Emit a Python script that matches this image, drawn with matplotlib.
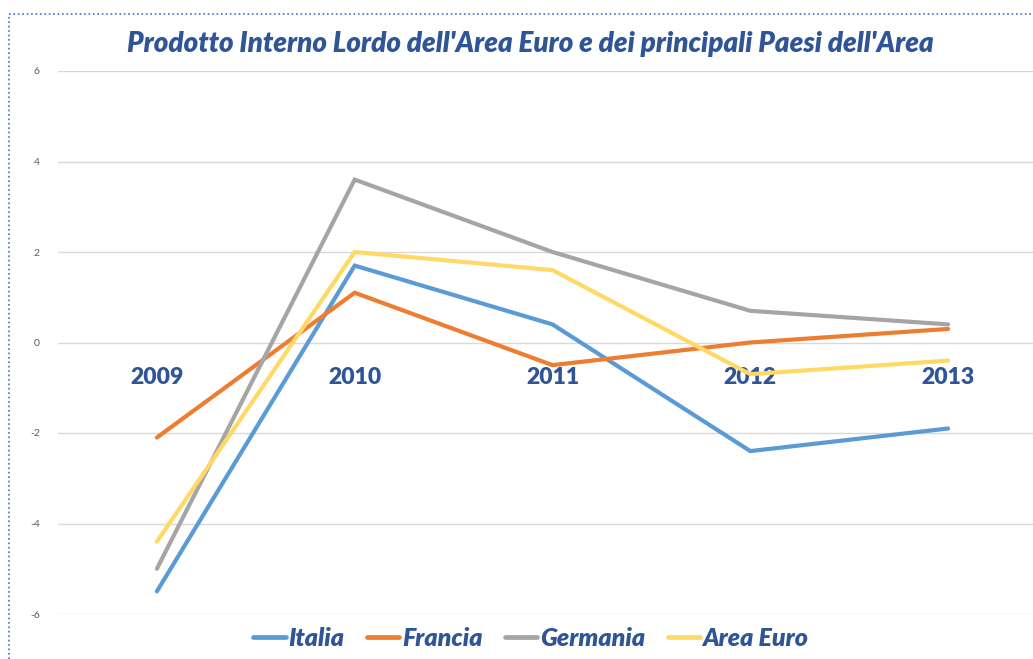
import matplotlib.pyplot as plt
from matplotlib.lines import Line2D

# data
anni = ['2009', '2010', '2011', '2012', '2013']
italia = [-5.5, 1.7, 0.4, -2.4, -1.9]
francia = [-2.1, 1.1, -0.5, 0.0, 0.3]
germania = [-5.0, 3.6, 2.0, 0.7, 0.4]
area_euro = [-4.4, 2.0, 1.6, -0.7, -0.4]

serie = [('Italia', italia, '#5B9BD5'),
         ('Francia', francia, '#ED7D31'),
         ('Germania', germania, '#A5A5A5'),
         ('Area Euro', area_euro, '#FFD966')]

blu = '#2F5597'
plt.rcParams['font.family'] = ['Lato', 'DejaVu Sans']

fig = plt.figure(figsize=(10.33, 6.59), dpi=100)
ax = fig.add_axes([58/1033, 45/659, 989/1033, 543/659])

x = range(len(anni))
for nome, valori, colore in serie:
    ax.plot(x, valori, color=colore, lw=3, solid_capstyle='round',
            solid_joinstyle='miter', label=nome)

ax.set_xlim(-0.5, 4.5)
ax.set_ylim(-6, 6)
ax.set_yticks([-6, -4, -2, 0, 2, 4, 6])
ax.set_yticklabels(['-6', '-4', '-2', '0', '2', '4', '6'])
ax.grid(axis='y', color='#D9D9D9', lw=1)
ax.set_axisbelow(True)
ax.tick_params(axis='y', length=0, pad=13, labelsize=7.5, labelcolor='#595959')

ax.spines['bottom'].set_position(('data', 0))
for s in ax.spines.values():
    s.set_visible(False)
ax.set_xticks(list(x))
ax.set_xticklabels(anni, fontsize=16.5, fontweight='heavy', color=blu)
ax.tick_params(axis='x', length=0, pad=18)

fig.text(530/1033, 1 - 44/659, "Prodotto Interno Lordo dell'Area Euro e dei principali Paesi dell'Area",
         ha='center', va='center', fontsize=20, fontweight='heavy', style='italic', color=blu)

leg = fig.legend(loc='center', bbox_to_anchor=(531/1033, 1 - 638/659), ncol=4, frameon=False,
                 handlelength=1.3, handletextpad=0.1, columnspacing=0.9,
                 prop={'size': 18, 'weight': 'heavy', 'style': 'italic'})
for t in leg.get_texts():
    t.set_color(blu)
for h in leg.legend_handles:
    h.set_linewidth(3.4)

# dotted frame
fig.add_artist(Line2D([9/1033, 1], [1 - 14/659, 1 - 14/659], color='#4472C4', lw=1.2, ls=':'))
fig.add_artist(Line2D([9/1033, 9/1033], [0, 1 - 14/659], color='#4472C4', lw=1.2, ls=':'))

fig.savefig('out.png', dpi=100)
